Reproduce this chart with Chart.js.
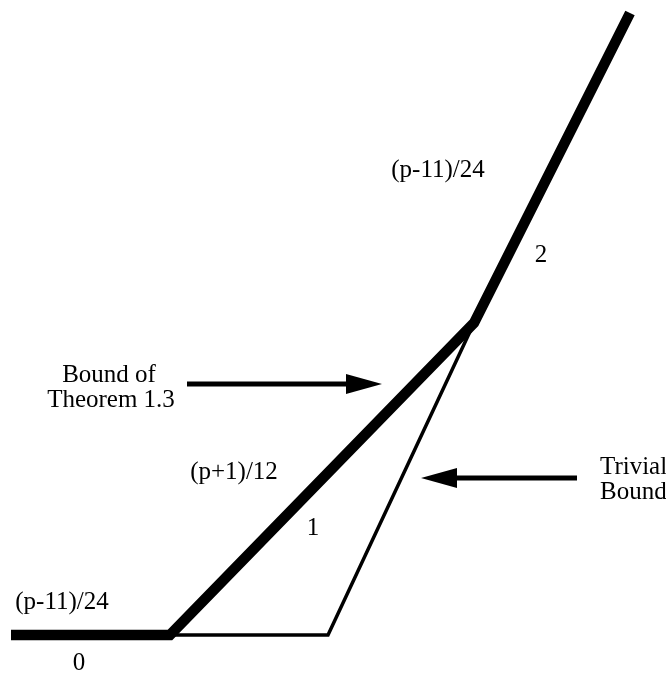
<!DOCTYPE html>
<html>
<head>
<meta charset="utf-8">
<script src="https://cdn.jsdelivr.net/npm/chart.js@4/dist/chart.umd.min.js"></script>
<style>
  html, body { margin: 0; padding: 0; background: #fff; }
  #wrap { width: 666px; height: 675px; }
</style>
</head>
<body>
<div id="wrap"><canvas id="boundChart"></canvas></div>
<script>
// bound of theorem 1.3 (thick) and trivial bound (thin), abstract units
const boundX = [0, 159, 463, 619];
const boundY = [0, 0, 312, 622];
const trivialX = [159, 317, 463];
const trivialY = [0, 0, 312];

// annotation texts
const labelTexts = ['(p-11)/24', '2', 'Bound of', 'Theorem 1.3', '(p+1)/12', '1', 'Trivial', 'Bound', '(p-11)/24', '0'];
const labelPos = [
  [427, 465, 'center'], [530, 380, 'center'], [98, 260, 'center'], [100, 235, 'center'],
  [223, 163, 'center'], [302, 107, 'center'], [589, 168, 'left'], [589, 143, 'left'],
  [51, 33, 'center'], [68, -28, 'center']
];
const arrows = [
  { from: [176, 251], to: [371, 251] },
  { from: [566, 157], to: [410, 157] }
];

const toPts = (xs, ys) => xs.map((x, i) => ({ x: x, y: ys[i] }));

const annotations = {
  id: 'annotations',
  afterDatasetsDraw(chart) {
    const ctx = chart.ctx;
    const sx = chart.scales.x, sy = chart.scales.y;
    ctx.save();
    ctx.fillStyle = '#000';
    ctx.strokeStyle = '#000';
    ctx.font = '25px "Liberation Serif", "DejaVu Serif", serif';
    ctx.textBaseline = 'middle';
    labelTexts.forEach((t, i) => {
      const p = labelPos[i];
      ctx.textAlign = p[2];
      ctx.fillText(t, sx.getPixelForValue(p[0]), sy.getPixelForValue(p[1]));
    });
    arrows.forEach(a => {
      const x1 = sx.getPixelForValue(a.from[0]), y1 = sy.getPixelForValue(a.from[1]);
      const x2 = sx.getPixelForValue(a.to[0]), y2 = sy.getPixelForValue(a.to[1]);
      const dir = Math.sign(x2 - x1);
      const headLen = 36, headHalf = 10;
      ctx.lineWidth = 5;
      ctx.beginPath();
      ctx.moveTo(x1, y1);
      ctx.lineTo(x2 - dir * headLen + dir * 2, y2);
      ctx.stroke();
      ctx.beginPath();
      ctx.moveTo(x2, y2);
      ctx.lineTo(x2 - dir * headLen, y2 - headHalf);
      ctx.lineTo(x2 - dir * headLen, y2 + headHalf);
      ctx.closePath();
      ctx.fill();
    });
    ctx.restore();
  }
};

new Chart(document.getElementById('boundChart').getContext('2d'), {
  type: 'scatter',
  data: {
    datasets: [
      {
        label: 'Trivial Bound',
        data: toPts(trivialX, trivialY),
        showLine: true,
        borderColor: '#000',
        borderWidth: 3.5,
        borderJoinStyle: 'miter',
        pointRadius: 0,
        tension: 0
      },
      {
        label: 'Bound of Theorem 1.3',
        data: toPts(boundX, boundY),
        showLine: true,
        borderColor: '#000',
        borderWidth: 10.5,
        borderJoinStyle: 'miter',
        pointRadius: 0,
        tension: 0
      }
    ]
  },
  options: {
    responsive: true,
    maintainAspectRatio: false,
    animation: false,
    layout: { padding: 0 },
    plugins: {
      legend: { display: false },
      tooltip: { enabled: false }
    },
    scales: {
      x: { type: 'linear', min: -11, max: 655, display: false },
      y: { type: 'linear', min: -40, max: 635, display: false }
    }
  },
  plugins: [annotations]
});
</script>
</body>
</html>
